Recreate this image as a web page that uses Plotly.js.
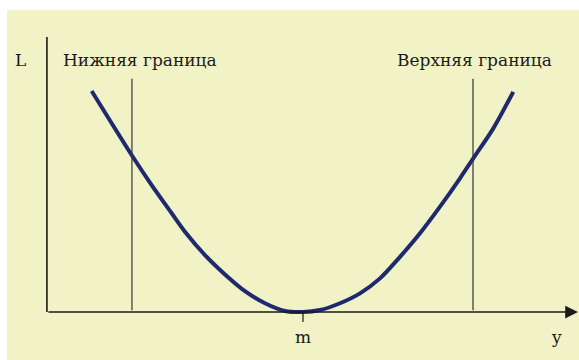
<!DOCTYPE html>
<html>
<head>
<meta charset="utf-8">
<script src="https://cdn.plot.ly/plotly-3.0.1.min.js"></script>
<style>
  html, body { margin: 0; padding: 0; background: #ffffff; }
  #chart { width: 579px; height: 360px; }
</style>
</head>
<body>
<div id="chart"></div>
<script>
// Loss curve L(y): penalty that grows as y moves away from the target m
const curveY = [0.873, 1.654, 2.045, 2.436, 2.695, 3.086, 3.477, 3.867, 4.258, 4.648, 5.0,
                5.332, 5.723, 6.113, 6.504, 6.895, 7.285, 7.676, 8.066, 8.326, 8.717, 9.107];
const curveL = [10.05, 7.14, 5.77, 4.49, 3.65, 2.59, 1.71, 0.95, 0.40, 0.05, 0.0,
                0.09, 0.40, 0.85, 1.53, 2.51, 3.58, 4.79, 6.08, 6.99, 8.35, 10.01];

// Tolerance limits and target
const lowerLimit = 1.66;
const upperLimit = 8.32;
const target = 5.0;
const limitTop = 10.6;

// Axis extents
const axisYEnd = 10.37;
const axisLTop = 12.5;

const labelLower = 'Нижняя граница';
const labelUpper = 'Верхняя граница';
const labelTarget = 'm';
const labelAxisY = 'y';
const labelAxisL = 'L';

const ink = '#1a1a1a';
const textFont = { family: 'DejaVu Serif', size: 17, color: ink };

const traces = [{
  x: curveY,
  y: curveL,
  mode: 'lines',
  line: { color: '#1f2a6e', width: 4, shape: 'spline', smoothing: 0.8 },
  hoverinfo: 'skip'
}];

const shapes = [
  // vertical L axis
  { type: 'line', xref: 'x', yref: 'y', x0: 0, x1: 0, y0: 0, y1: axisLTop,
    line: { color: ink, width: 1.6 } },
  // tolerance limits
  { type: 'line', xref: 'x', yref: 'y', x0: lowerLimit, x1: lowerLimit, y0: 0.08, y1: limitTop,
    line: { color: '#333333', width: 1.2 } },
  { type: 'line', xref: 'x', yref: 'y', x0: upperLimit, x1: upperLimit, y0: 0.08, y1: limitTop,
    line: { color: '#333333', width: 1.2 } },
  // tick at the target value
  { type: 'line', xref: 'x', yref: 'y', x0: target, x1: target, y0: 0, y1: -0.45,
    line: { color: ink, width: 1.2 } }
];

const annotations = [
  // horizontal y axis with arrowhead
  { x: axisYEnd, y: 0, ax: 0, ay: 0, xref: 'x', yref: 'y', axref: 'x', ayref: 'y',
    showarrow: true, arrowhead: 2, arrowsize: 1.6, arrowwidth: 1.6, arrowcolor: ink, text: '' },
  { x: -0.51, y: 11.45, xref: 'x', yref: 'y', text: labelAxisL, showarrow: false,
    xanchor: 'center', yanchor: 'middle', font: textFont },
  { x: 0.27, y: 11.45, xref: 'x', yref: 'y', text: labelLower, showarrow: false,
    xanchor: 'left', yanchor: 'middle', font: textFont },
  { x: 9.9, y: 11.45, xref: 'x', yref: 'y', text: labelUpper, showarrow: false,
    xanchor: 'right', yanchor: 'middle', font: textFont },
  { x: target, y: -1.14, xref: 'x', yref: 'y', text: labelTarget, showarrow: false,
    xanchor: 'center', yanchor: 'middle', font: textFont },
  { x: 9.96, y: -1.14, xref: 'x', yref: 'y', text: labelAxisY, showarrow: false,
    xanchor: 'center', yanchor: 'middle', font: textFont }
];

const layout = {
  width: 579,
  height: 360,
  margin: { l: 7, r: 0, t: 10, b: 0, pad: 0 },
  paper_bgcolor: '#ffffff',
  plot_bgcolor: '#f1f3c7',
  font: textFont,
  showlegend: false,
  xaxis: { range: [-0.78, 10.39], visible: false, fixedrange: true },
  yaxis: { range: [-2.18, 13.73], visible: false, fixedrange: true },
  shapes: shapes,
  annotations: annotations
};

Plotly.newPlot('chart', traces, layout, { staticPlot: true, displayModeBar: false });
</script>
</body>
</html>
